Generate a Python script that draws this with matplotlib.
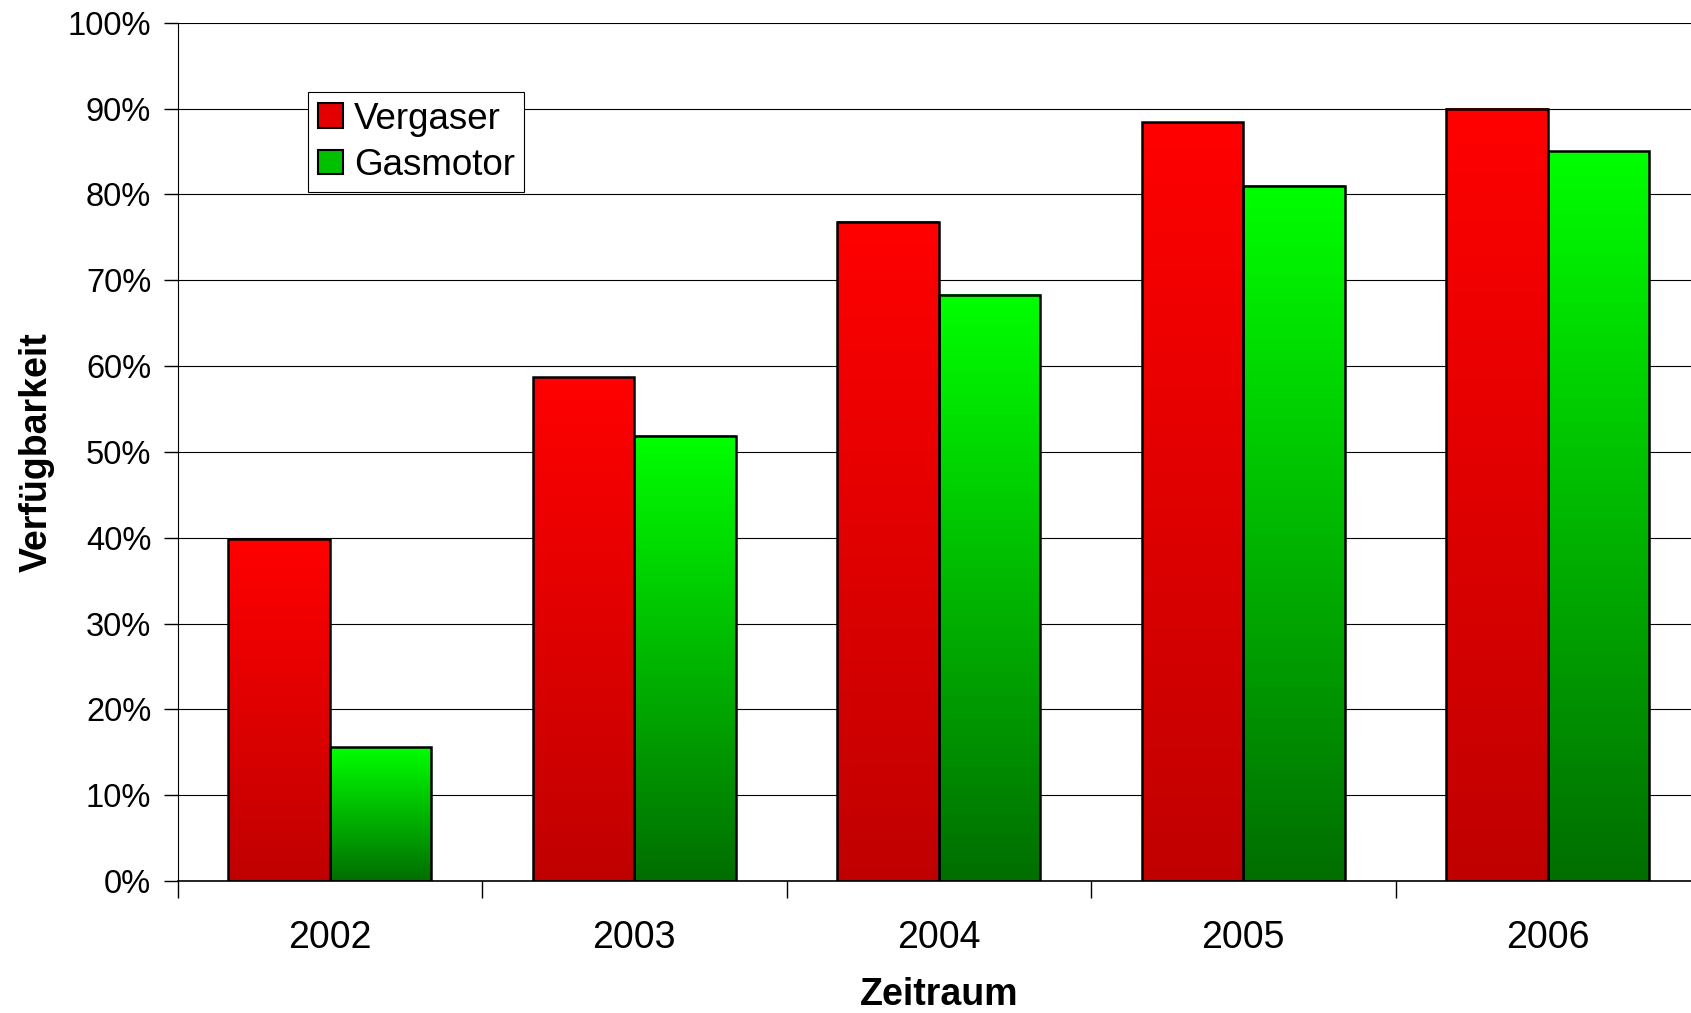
import numpy as np
import matplotlib
matplotlib.use("Agg")
import matplotlib.pyplot as plt
from matplotlib.patches import Patch
from matplotlib.colors import LinearSegmentedColormap
from matplotlib.ticker import PercentFormatter, FixedLocator

# --- data ---
years = ["2002", "2003", "2004", "2005", "2006"]
vergaser = [39.8, 58.7, 76.8, 88.4, 90.0]
gasmotor = [15.6, 51.9, 68.3, 81.0, 85.0]

plt.rcParams['font.family'] = ['Liberation Sans', 'DejaVu Sans']

red_cmap = LinearSegmentedColormap.from_list("red_grad", ["#C00000", "#FF0000"])
green_cmap = LinearSegmentedColormap.from_list("green_grad", ["#006E00", "#00FF00"])

fig = plt.figure(figsize=(16.91, 10.13), dpi=100)
ax = fig.add_axes([0.1050, 0.1303, 0.9004, 0.8473])

x = np.arange(len(years))
w = 1 / 3

bars_v = ax.bar(x - w / 2, vergaser, w, facecolor="none", edgecolor="black",
                linewidth=1.8, zorder=3)
bars_g = ax.bar(x + w / 2, gasmotor, w, facecolor="none", edgecolor="black",
                linewidth=1.8, zorder=3)

# gradient fill per bar (top bright, bottom dark)
grad = np.linspace(0, 1, 256).reshape(-1, 1)
for bars, cmap in [(bars_v, red_cmap), (bars_g, green_cmap)]:
    for b in bars:
        x0, y0 = b.get_x(), b.get_y()
        ax.imshow(grad, cmap=cmap, origin="lower", aspect="auto", zorder=2,
                  extent=[x0, x0 + b.get_width(), y0, y0 + b.get_height()],
                  interpolation="bilinear")

ax.set_xlim(-0.5, len(years) - 0.5)
ax.set_ylim(0, 100)

# y axis
ax.yaxis.set_major_locator(FixedLocator(np.arange(0, 101, 10)))
ax.yaxis.set_major_formatter(PercentFormatter(xmax=100, decimals=0))
ax.tick_params(axis="y", which="major", length=10, width=1, pad=9,
               labelsize=23.5, direction="out")
ax.yaxis.grid(True, color="black", linewidth=0.8, zorder=0)
ax.set_axisbelow(True)

# x axis: ticks at category borders, labels at centers
ax.set_xticks(np.arange(len(years) + 1) - 0.5)
ax.set_xticklabels([])
ax.set_xticks(x, minor=True)
ax.set_xticklabels(years, minor=True)
ax.tick_params(axis="x", which="major", length=12, width=1, direction="out")
ax.tick_params(axis="x", which="minor", length=0, pad=28, labelsize=27)

for s in ["top", "right"]:
    ax.spines[s].set_visible(False)
ax.spines["left"].set_linewidth(0.8)
ax.spines["bottom"].set_linewidth(1.2)

ax.set_xlabel("Zeitraum", fontsize=27, fontweight="bold", labelpad=15)
ax.set_ylabel("Verfügbarkeit", fontsize=27, fontweight="bold", labelpad=9)

handles = [Patch(facecolor="#E40000", edgecolor="black", linewidth=1.5, label="Vergaser"),
           Patch(facecolor="#00C000", edgecolor="black", linewidth=1.5, label="Gasmotor")]
leg = fig.legend(handles=handles, loc="upper left",
                 bbox_to_anchor=(308 / 1691, 1 - 92 / 1013),
                 fontsize=26.5, frameon=True, fancybox=False, shadow=False,
                 borderpad=0.26, borderaxespad=0, handlelength=0.68,
                 handleheight=0.64, handletextpad=0.3, labelspacing=0.3)
leg.get_frame().set_edgecolor("black")
leg.get_frame().set_linewidth(0.8)
leg.get_frame().set_alpha(1)

fig.savefig("out.png", dpi=100)
